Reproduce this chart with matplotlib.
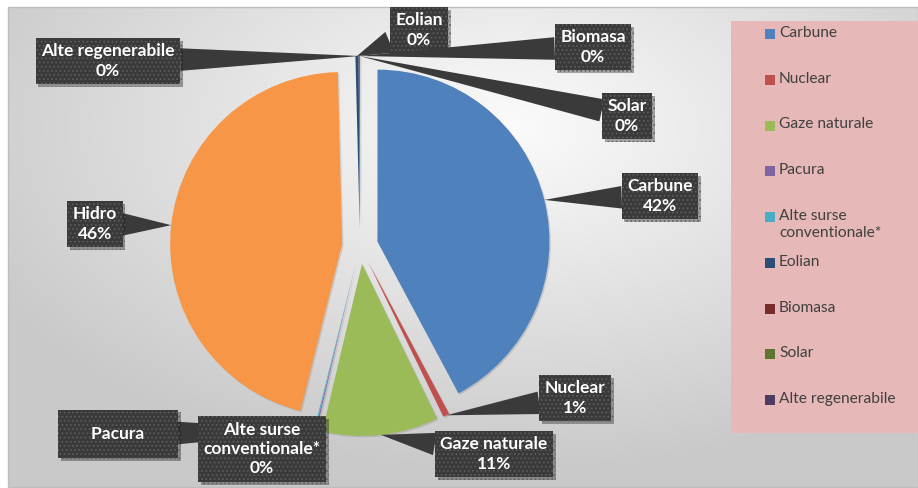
import numpy as np
import matplotlib
matplotlib.use("Agg")
import matplotlib.pyplot as plt
from matplotlib.patches import Rectangle
import matplotlib.patheffects as pe

# share of electricity production by source
sources = ["Carbune", "Nuclear", "Gaze naturale", "Pacura", "Alte surse\nconventionale*",
           "Hidro", "Eolian", "Biomasa", "Solar", "Alte regenerabile"]
shares = [42.2, 0.6, 10.9, 0.1, 0.1, 45.7, 0.3, 0.05, 0.01, 0.04]
colors = ["#4F81BD", "#C0504D", "#9BBB59", "#8064A2", "#4BACC6",
          "#F79646", "#2C4D75", "#772C2A", "#5F7530", "#4D3B62"]
legend_labels = ["Carbune", "Nuclear", "Gaze naturale", "Pacura", "Alte surse\nconventionale*",
                 "Eolian", "Biomasa", "Solar", "Alte regenerabile"]
legend_colors = ["#4F81BD", "#C0504D", "#9BBB59", "#8064A2", "#4BACC6",
                 "#2C4D75", "#772C2A", "#5F7530", "#4D3B62"]

# label box centres, in pixels from the top-left corner
label_pos = [(660, 196), (575, 398), (494, 454), (118, 434), (262, 449),
             (95, 224), (419, 30), (593, 47), (627, 116), (108, 61)]

W, H = 918, 488
plt.rcParams["hatch.linewidth"] = 0.7

fig = plt.figure(figsize=(W / 100, H / 100), dpi=100)
ax = fig.add_axes([0, 0, 1, 1])

# chart-area background: soft radial grey gradient
gx, gy = np.meshgrid(np.linspace(0, 1, 300), np.linspace(0, 1, 160))
d = np.sqrt(((gx - 0.55) / 1.0) ** 2 + ((gy - 0.25) / 1.1) ** 2)
shade = np.clip(0.985 - 0.30 * d, 0.79, 0.985)
ax.imshow(np.dstack([shade] * 3), extent=(8, W, H - 487, H - 7), origin="upper",
          aspect="auto", zorder=0, interpolation="bilinear")
ax.add_patch(Rectangle((8, H - 487), W - 8, 480, fill=False, ec="#BEBEBE", lw=1, zorder=1))

# explode is in data units (pixels) here
wedges, _ = ax.pie(shares, colors=colors, startangle=90, counterclock=False,
                   explode=[18] * len(shares), radius=172, center=(360, H - 246),
                   wedgeprops=dict(lw=0), frame=True)
for w in wedges:
    w.set_zorder(2)
    w.set_path_effects([pe.SimplePatchShadow(offset=(1, -1), alpha=0.15), pe.Normal()])

ax.set_xlim(0, W)
ax.set_ylim(0, H)
ax.axis("off")

font = ["Lato", "DejaVu Sans"]
for i, (name, val) in enumerate(zip(sources, shares)):
    w = wedges[i]
    mid = np.deg2rad((w.theta1 + w.theta2) / 2)
    tip = (w.center[0] + w.r * np.cos(mid), w.center[1] + w.r * np.sin(mid))
    if name == "Pacura":
        text, pad = "    Pacura    ", 0.95
    else:
        text, pad = f"{name}\n{round(val):.0f}%", 0.32
    lx, ly = label_pos[i]
    t = ax.annotate(text, xy=tip, xytext=(lx, H - ly), ha="center", va="center",
                    fontsize=12.5, fontweight="bold", color="white", family=font,
                    linespacing=1.25, zorder=5,
                    bbox=dict(boxstyle="square,pad=%s" % pad,
                              fc="#3A3A3A", ec="#5E5E5E", lw=0, hatch="...."),
                    arrowprops=dict(arrowstyle="wedge,tail_width=1.3", fc="#3A3A3A",
                                    ec="none", shrinkA=0, shrinkB=0))
    t.get_bbox_patch().set_path_effects([pe.SimplePatchShadow(offset=(2, -2), alpha=0.35),
                                         pe.Normal()])

# legend panel
ax.add_patch(Rectangle((731, H - 433), W - 731, 412, fc="#E6B8B7", ec="none", zorder=3))
for i, (lab, c) in enumerate(zip(legend_labels, legend_colors)):
    y = H - (34 + i * 45.75)
    ax.add_patch(Rectangle((765, y - 5), 10, 10, fc=c, ec="none", zorder=4))
    ax.text(779, y + 8, lab, ha="left", va="top", fontsize=11.2, color="#404040",
            family=font, linespacing=1.3, zorder=4)

fig.savefig("out.png", dpi=100, facecolor="white")
